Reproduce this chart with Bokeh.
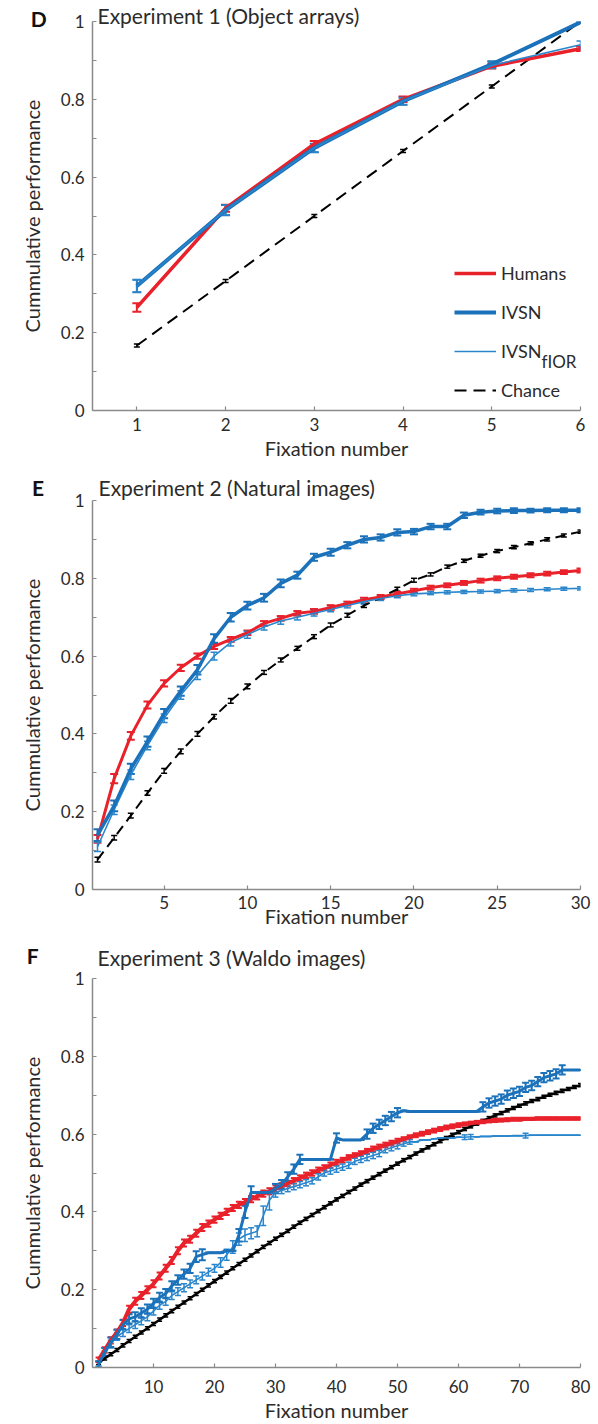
from bokeh.plotting import figure
from bokeh.models import (ColumnDataSource, Whisker, TeeHead, FixedTicker, Label,
                          Legend, LegendItem, Range1d, Title)
from bokeh.layouts import column
from bokeh.embed import file_html
from bokeh.resources import INLINE

FONT = "Lato"
RED = "#e8212b"
BLUE = "#1b72ba"
BLUE_THIN = "#2a86cc"
AXIS = "#8a8a8a"
TXT = "#2b2b2b"

# ---------------- Experiment 1 (Object arrays) ----------------
fix_d = [1, 2, 3, 4, 5, 6]
hum_d = [0.265, 0.52, 0.685, 0.80, 0.885, 0.93]
hum_d_err = [0.011, 0.009, 0.008, 0.007, 0.006, 0.006]
ivsn_d = [0.32, 0.515, 0.675, 0.795, 0.89, 0.998]
ivsn_d_err = [0.016, 0.013, 0.011, 0.009, 0.008, 0.002]
fior_d = [0.32, 0.515, 0.675, 0.795, 0.887, 0.94]
fior_d_err = [0.016, 0.013, 0.011, 0.009, 0.008, 0.010]
chance_d = [0.167, 0.333, 0.5, 0.667, 0.833, 1.0]
chance_d_err = [0.004, 0.004, 0.004, 0.004, 0.004, 0.004]

# ---------------- Experiment 2 (Natural images) ----------------
fix_e = list(range(1, 31))
hum_e = [0.13, 0.285, 0.395, 0.474, 0.53, 0.57, 0.60, 0.625, 0.643, 0.66,
         0.684, 0.697, 0.71, 0.715, 0.725, 0.735, 0.745, 0.752, 0.76, 0.768,
         0.776, 0.782, 0.788, 0.794, 0.80, 0.804, 0.808, 0.812, 0.816, 0.82]
hum_e_err = [0.010, 0.012, 0.010, 0.009, 0.008, 0.008, 0.007, 0.007, 0.006, 0.006,
             0.006, 0.006, 0.006, 0.006, 0.006, 0.005, 0.005, 0.005, 0.005, 0.005,
             0.005, 0.005, 0.005, 0.005, 0.005, 0.005, 0.005, 0.005, 0.005, 0.005]
ivsn_e = [0.14, 0.215, 0.31, 0.38, 0.452, 0.51, 0.565, 0.645, 0.70, 0.73,
          0.75, 0.787, 0.808, 0.854, 0.867, 0.885, 0.90, 0.905, 0.918, 0.92,
          0.933, 0.933, 0.962, 0.97, 0.973, 0.974, 0.974, 0.975, 0.975, 0.975]
ivsn_e_err = [0.015, 0.014, 0.013, 0.013, 0.012, 0.012, 0.012, 0.011, 0.011, 0.010,
              0.010, 0.010, 0.009, 0.009, 0.009, 0.008, 0.008, 0.008, 0.008, 0.007,
              0.007, 0.007, 0.007, 0.006, 0.006, 0.006, 0.005, 0.005, 0.005, 0.005]
fior_e = [0.11, 0.205, 0.295, 0.37, 0.44, 0.50, 0.55, 0.60, 0.635, 0.655,
          0.675, 0.69, 0.70, 0.71, 0.72, 0.73, 0.74, 0.748, 0.755, 0.76,
          0.762, 0.764, 0.765, 0.766, 0.767, 0.769, 0.77, 0.772, 0.773, 0.774]
fior_e_err = [0.012, 0.012, 0.012, 0.011, 0.011, 0.011, 0.010, 0.010, 0.009, 0.009,
              0.008, 0.008, 0.007, 0.007, 0.006, 0.006, 0.006, 0.005, 0.005, 0.005,
              0.004, 0.004, 0.004, 0.004, 0.004, 0.004, 0.004, 0.004, 0.004, 0.004]
chance_e = [0.077, 0.133, 0.19, 0.248, 0.305, 0.355, 0.40, 0.444, 0.485, 0.522,
            0.558, 0.59, 0.62, 0.65, 0.68, 0.705, 0.73, 0.75, 0.772, 0.795,
            0.81, 0.83, 0.845, 0.858, 0.87, 0.88, 0.89, 0.90, 0.91, 0.92]
chance_e_err = [0.006, 0.006, 0.006, 0.006, 0.006, 0.006, 0.006, 0.006, 0.006, 0.006,
                0.005, 0.005, 0.005, 0.005, 0.005, 0.005, 0.005, 0.005, 0.005, 0.005,
                0.004, 0.004, 0.004, 0.004, 0.004, 0.004, 0.004, 0.004, 0.004, 0.004]

# ---------------- Experiment 3 (Waldo images) ----------------
fix_f = list(range(1, 81))
hum_f = [0.02, 0.045, 0.07, 0.09, 0.115, 0.15, 0.17, 0.185, 0.2, 0.215,
         0.235, 0.255, 0.275, 0.30, 0.32, 0.33, 0.345, 0.36, 0.37, 0.38,
         0.39, 0.40, 0.41, 0.418, 0.425, 0.433, 0.44, 0.447, 0.453, 0.46,
         0.467, 0.473, 0.48, 0.487, 0.494, 0.50, 0.507, 0.513, 0.52, 0.527,
         0.533, 0.54, 0.545, 0.55, 0.556, 0.562, 0.567, 0.572, 0.577, 0.582,
         0.587, 0.592, 0.597, 0.601, 0.605, 0.609, 0.613, 0.617, 0.62, 0.623,
         0.626, 0.628, 0.63, 0.632, 0.634, 0.635, 0.636, 0.637, 0.638, 0.638,
         0.639, 0.639, 0.64, 0.64, 0.64, 0.64, 0.64, 0.64, 0.64, 0.64]
hum_f_err = [0.006, 0.007, 0.008, 0.008, 0.008, 0.009, 0.009, 0.009, 0.009, 0.009,
             0.009, 0.009, 0.009, 0.009, 0.009, 0.009, 0.009, 0.009, 0.008, 0.008,
             0.008, 0.008, 0.008, 0.008, 0.008, 0.008, 0.008, 0.008, 0.008, 0.008,
             0.007, 0.007, 0.007, 0.007, 0.007, 0.007, 0.007, 0.007, 0.007, 0.007,
             0.006, 0.006, 0.006, 0.006, 0.006, 0.006, 0.006, 0.006, 0.006, 0.006,
             0.005, 0.005, 0.005, 0.005, 0.005, 0.005, 0.005, 0.005, 0.005, 0.005,
             0.004, 0.004, 0.004, 0.004, 0.004, 0.004, 0.004, 0.004, 0.004, 0.004,
             0.003, 0.003, 0.003, 0.003, 0.003, 0.003, 0.003, 0.003, 0.003, 0.003]
ivsn_f = [0.008, 0.04, 0.065, 0.085, 0.11, 0.125, 0.13, 0.14, 0.15, 0.165,
          0.18, 0.19, 0.21, 0.225, 0.24, 0.255, 0.285, 0.29, 0.295, 0.295,
          0.295, 0.30, 0.30, 0.34, 0.40, 0.45, 0.45, 0.45, 0.45, 0.46,
          0.47, 0.49, 0.51, 0.535, 0.535, 0.535, 0.535, 0.535, 0.535, 0.59,
          0.585, 0.585, 0.585, 0.585, 0.60, 0.615, 0.625, 0.635, 0.645, 0.655,
          0.66, 0.658, 0.658, 0.658, 0.658, 0.658, 0.658, 0.658, 0.658, 0.658,
          0.658, 0.658, 0.658, 0.67, 0.68, 0.685, 0.69, 0.70, 0.705, 0.71,
          0.72, 0.725, 0.735, 0.745, 0.75, 0.755, 0.765, 0.765, 0.765, 0.765]
ivsn_f_err = [0.008, 0.010, 0.012, 0.012, 0.012, 0.012, 0.012, 0.012, 0.012, 0.012,
              0.012, 0.012, 0.012, 0.012, 0.012, 0.012, 0.014, 0.014, 0.0, 0.0,
              0.0, 0.0, 0.0, 0.016, 0.016, 0.016, 0.0, 0.0, 0.0, 0.012,
              0.012, 0.012, 0.012, 0.012, 0.0, 0.0, 0.0, 0.0, 0.0, 0.012,
              0.0, 0.0, 0.0, 0.0, 0.012, 0.012, 0.012, 0.012, 0.012, 0.012,
              0.0, 0.0, 0.0, 0.0, 0.0, 0.0, 0.0, 0.0, 0.0, 0.0,
              0.0, 0.0, 0.0, 0.012, 0.012, 0.012, 0.012, 0.012, 0.012, 0.012,
              0.012, 0.012, 0.012, 0.012, 0.012, 0.012, 0.012, 0.0, 0.0, 0.0]
fior_f = [0.01, 0.035, 0.06, 0.08, 0.09, 0.10, 0.11, 0.12, 0.13, 0.145,
          0.16, 0.17, 0.185, 0.195, 0.205, 0.215, 0.225, 0.235, 0.245, 0.255,
          0.27, 0.29, 0.31, 0.33, 0.34, 0.345, 0.35, 0.39, 0.43, 0.45,
          0.455, 0.46, 0.465, 0.47, 0.475, 0.48, 0.49, 0.50, 0.505, 0.51,
          0.515, 0.52, 0.53, 0.535, 0.54, 0.545, 0.55, 0.56, 0.565, 0.57,
          0.575, 0.58, 0.58, 0.585, 0.585, 0.588, 0.59, 0.59, 0.59, 0.592,
          0.592, 0.593, 0.593, 0.594, 0.594, 0.595, 0.595, 0.595, 0.596, 0.596,
          0.596, 0.597, 0.597, 0.597, 0.597, 0.597, 0.597, 0.597, 0.597, 0.597]
fior_f_err = [0.006, 0.008, 0.010, 0.010, 0.010, 0.010, 0.010, 0.010, 0.010, 0.010,
              0.010, 0.010, 0.010, 0.010, 0.010, 0.010, 0.010, 0.010, 0.010, 0.010,
              0.012, 0.014, 0.016, 0.016, 0.016, 0.014, 0.014, 0.025, 0.025, 0.012,
              0.008, 0.008, 0.008, 0.008, 0.008, 0.008, 0.008, 0.008, 0.008, 0.008,
              0.008, 0.008, 0.008, 0.008, 0.008, 0.008, 0.008, 0.008, 0.008, 0.008,
              0.006, 0.006, 0.0, 0.0, 0.0, 0.0, 0.0, 0.0, 0.0, 0.0,
              0.006, 0.006, 0.0, 0.0, 0.0, 0.0, 0.0, 0.0, 0.0, 0.0,
              0.006, 0.0, 0.0, 0.0, 0.0, 0.0, 0.0, 0.0, 0.0, 0.0]
chance_f = [0.012, 0.023, 0.034, 0.045, 0.057, 0.068, 0.079, 0.090, 0.101, 0.112,
            0.123, 0.134, 0.145, 0.156, 0.167, 0.178, 0.189, 0.2, 0.211, 0.222,
            0.233, 0.244, 0.255, 0.266, 0.277, 0.288, 0.299, 0.31, 0.32, 0.331,
            0.341, 0.351, 0.362, 0.372, 0.382, 0.392, 0.402, 0.412, 0.422, 0.432,
            0.441, 0.451, 0.46, 0.47, 0.479, 0.488, 0.497, 0.506, 0.515, 0.524,
            0.533, 0.541, 0.55, 0.558, 0.566, 0.574, 0.582, 0.59, 0.598, 0.605,
            0.613, 0.62, 0.627, 0.634, 0.641, 0.648, 0.654, 0.661, 0.667, 0.673,
            0.679, 0.685, 0.69, 0.696, 0.701, 0.706, 0.711, 0.716, 0.721, 0.726]
chance_f_err = [0.004] * 80

y_ticks = [0, 0.2, 0.4, 0.6, 0.8, 1]
y_minor = [0.1, 0.3, 0.5, 0.7, 0.9]
y_tick_labels = {0: "0", 0.2: "0.2", 0.4: "0.4", 0.6: "0.6", 0.8: "0.8", 1: "1"}


def base_fig(height, xr, left, right, top, bottom, xticks, xlab_standoff, axlab_standoff):
    p = figure(width=598, height=height, x_range=Range1d(*xr), y_range=Range1d(0, 1),
               output_backend="svg", toolbar_location=None, title=None,
               min_border_left=left, min_border_right=right,
               min_border_top=top, min_border_bottom=bottom)
    p.outline_line_color = None
    p.xgrid.visible = False
    p.ygrid.visible = False
    for ax in (p.xaxis[0], p.yaxis[0]):
        ax.axis_line_color = AXIS
        ax.axis_line_width = 1.5
        ax.major_tick_line_color = AXIS
        ax.minor_tick_line_color = AXIS
        ax.major_tick_line_width = 1.2
        ax.minor_tick_line_width = 1.2
        ax.major_tick_in = 4
        ax.major_tick_out = 0
        ax.minor_tick_in = 4
        ax.minor_tick_out = 0
        ax.major_label_text_font = FONT
        ax.major_label_text_font_size = "17px"
        ax.major_label_text_color = TXT
        ax.axis_label_text_font = FONT
        ax.axis_label_text_font_size = "20px"
        ax.axis_label_text_font_style = "normal"
        ax.axis_label_text_color = TXT
    p.yaxis.ticker = FixedTicker(ticks=y_ticks, minor_ticks=y_minor)
    p.yaxis.major_label_overrides = y_tick_labels
    p.yaxis.axis_label = "Cummulative performance"
    p.yaxis.major_label_standoff = 8
    p.yaxis.axis_label_standoff = 14
    p.xaxis.ticker = FixedTicker(ticks=xticks, minor_ticks=[])
    p.xaxis.axis_label = "Fixation number"
    p.xaxis.major_label_standoff = xlab_standoff
    p.xaxis.axis_label_standoff = axlab_standoff
    return p


def errbars(p, x, y, e, color, lw, size):
    src = ColumnDataSource(dict(x=x, lo=[a - b for a, b in zip(y, e)],
                                hi=[a + b for a, b in zip(y, e)]))
    w = Whisker(source=src, base="x", lower="lo", upper="hi", dimension="height",
                line_color=color, line_width=lw,
                lower_head=TeeHead(size=size, line_color=color, line_width=lw),
                upper_head=TeeHead(size=size, line_color=color, line_width=lw))
    p.add_layout(w)


def panel_labels(p, letter, title, lx_data, ly, offset, standoff):
    # side-panel annotations are not clipped to the frame
    p.add_layout(Label(x=lx_data, y=ly, x_units="data", y_units="screen", text=letter,
                       x_offset=10,
                       text_font=FONT, text_font_size="21px", text_font_style="bold",
                       text_color="#111111", text_baseline="middle"), "left")
    p.add_layout(Title(text=title, align="left", offset=offset, standoff=standoff,
                       text_font=FONT, text_font_size="21px", text_font_style="normal",
                       text_color=TXT), "above")


# ---- Panel D ----
pD = base_fig(462, (0.5, 6.0), 88, 15, 21, 51, fix_d, 7, 2)
rc = pD.line(fix_d, chance_d, line_color="black", line_width=2, line_dash="12 7")
errbars(pD, fix_d, chance_d, chance_d_err, "black", 1.5, 6)
rh = pD.line(fix_d, hum_d, line_color=RED, line_width=3.5)
errbars(pD, fix_d, hum_d, hum_d_err, RED, 2, 9)
ri = pD.line(fix_d, ivsn_d, line_color=BLUE, line_width=4)
errbars(pD, fix_d, ivsn_d, ivsn_d_err, BLUE, 2, 9)
rf = pD.line(fix_d, fior_d, line_color=BLUE_THIN, line_width=1.6)
errbars(pD, fix_d, fior_d, fior_d_err, BLUE_THIN, 1.5, 8)
panel_labels(pD, "D", "Experiment 1 (Object arrays)", -0.31, 392, 5, -13)

legend = Legend(items=[LegendItem(label="Humans", renderers=[rh]),
                       LegendItem(label="IVSN", renderers=[ri]),
                       LegendItem(label="IVSN", renderers=[rf]),
                       LegendItem(label="Chance", renderers=[rc])],
                location=(362, 9), border_line_color=None, background_fill_alpha=0,
                padding=0, margin=0, glyph_width=42, glyph_height=22, label_height=22,
                label_standoff=5, spacing=17, label_text_font=FONT,
                label_text_font_size="18px", label_text_color=TXT)
pD.add_layout(legend)
pD.add_layout(Label(x=449, y=49, x_units="screen", y_units="screen", text="fIOR",
                    text_font=FONT, text_font_size="17px", text_color=TXT,
                    text_baseline="middle"))

# ---- Panel E ----
pE = base_fig(468, (0.7, 30.0), 86, 18, 38, 40, [5, 10, 15, 20, 25, 30], 6, -8)
pE.line(fix_e, chance_e, line_color="black", line_width=2, line_dash="10 6")
errbars(pE, fix_e, chance_e, chance_e_err, "black", 1.5, 6)
pE.line(fix_e, hum_e, line_color=RED, line_width=3)
errbars(pE, fix_e, hum_e, hum_e_err, RED, 2, 8)
pE.line(fix_e, fior_e, line_color=BLUE_THIN, line_width=1.6)
errbars(pE, fix_e, fior_e, fior_e_err, BLUE_THIN, 1.5, 7)
pE.line(fix_e, ivsn_e, line_color=BLUE, line_width=3.5)
errbars(pE, fix_e, ivsn_e, ivsn_e_err, BLUE, 2, 8)
panel_labels(pE, "E", "Experiment 2 (Natural images)", -3.53, 402, 6, 1)

# ---- Panel F ----
pF = base_fig(494, (0.0, 80.0), 91, 18, 48, 56, [10, 20, 30, 40, 50, 60, 70, 80], 12, 2)
pF.line(fix_f, chance_f, line_color="black", line_width=2.5)
errbars(pF, fix_f, chance_f, chance_f_err, "black", 1.5, 5)
pF.line(fix_f, hum_f, line_color=RED, line_width=4)
errbars(pF, fix_f, hum_f, hum_f_err, RED, 2, 6)
pF.line(fix_f, fior_f, line_color=BLUE_THIN, line_width=1.6)
errbars(pF, fix_f, fior_f, fior_f_err, BLUE_THIN, 1.5, 6)
pF.line(fix_f, ivsn_f, line_color=BLUE, line_width=3)
errbars(pF, fix_f, ivsn_f, ivsn_f_err, BLUE, 2, 7)
panel_labels(pF, "F", "Experiment 3 (Waldo images)", -12.4, 412, 5, 17)

layout = column(pD, pE, pF, spacing=0)
open("out.html", "w").write(file_html(layout, INLINE))
